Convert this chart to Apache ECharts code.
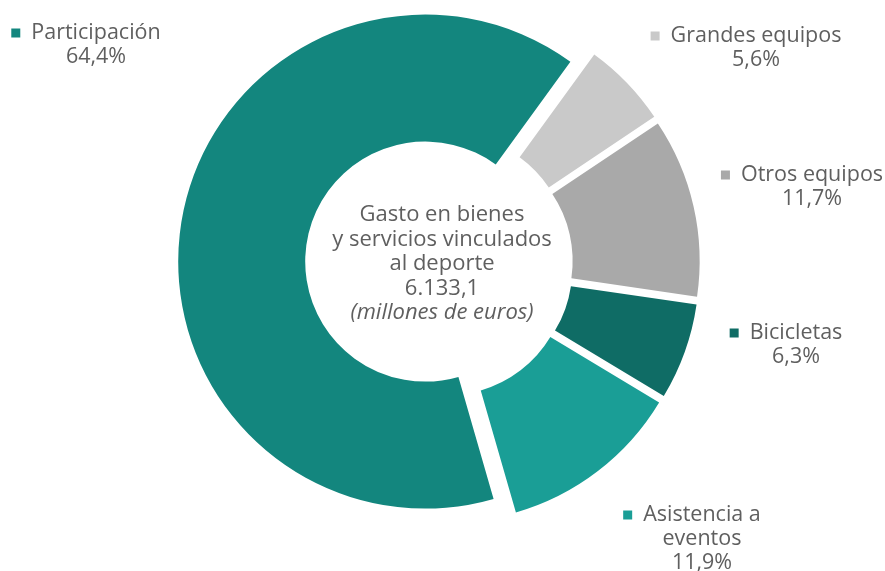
<!DOCTYPE html>
<html>
<head>
<meta charset="utf-8">
<script src="https://cdn.jsdelivr.net/npm/echarts@6/dist/echarts.min.js"></script>
<style>
html, body { margin: 0; padding: 0; background: #fff; }
#chart { width: 885px; height: 571px; }
</style>
</head>
<body>
<div id="chart"></div>
<script>
// datos del gráfico (sentido horario desde arriba)
var categorias = ['Grandes equipos', 'Otros equipos', 'Bicicletas', 'Asistencia a\neventos', 'Participación'];
var porcentajes = [5.6, 11.7, 6.3, 11.9, 64.4];
var colores = ['#c9c9c9', '#a9a9a9', '#0f6c65', '#1a9e96', '#13867e'];
var centroTexto = ['Gasto en bienes', 'y servicios vinculados', 'al deporte', '6.133,1', '(millones de euros)'];

// posición de cada etiqueta (centro del bloque)
var labelPos = [[746, 48], [802, 187], [786, 345], [692, 539], [86, 45]];

var fuente = 'Open Sans';
var gris = '#5f5f5f';

var myChart = echarts.init(document.getElementById('chart'));

function fmt(v) {
	return v.toFixed(1).replace('.', ',') + '%';
}

var datos = [];
for (var i = 0; i < categorias.length; i++) {
	datos.push({
		name: categorias[i],
		value: porcentajes[i],
		selected: true,
		itemStyle: { color: colores[i] }
	});
}

// etiquetas tipo leyenda: cuadrado + nombre, porcentaje debajo
var etiquetas = [];
for (var j = 0; j < categorias.length; j++) {
	var lineas = categorias[j].split('\n');
	var s = '{m| }{n|' + lineas[0] + '}';
	for (var k = 1; k < lineas.length; k++) {
		s += '\n{c|' + lineas[k] + '}';
	}
	s += '\n{c|' + fmt(porcentajes[j]) + '}';
	etiquetas.push({
		type: 'text',
		x: labelPos[j][0],
		y: labelPos[j][1],
		silent: true,
		style: {
			text: s,
			align: 'center',
			verticalAlign: 'middle',
			rich: {
				m: { width: 9, height: 9, backgroundColor: colores[j] },
				n: { fontFamily: fuente, fontSize: 21.5, fill: gris, padding: [0, 0, 0, 11], lineHeight: 24 },
				c: { fontFamily: fuente, fontSize: 21.5, fill: gris, padding: [0, 0, 0, 20], lineHeight: 24 }
			}
		}
	});
}

etiquetas.push({
	type: 'text',
	x: 442,
	y: 264,
	silent: true,
	style: {
		text: '{a|' + centroTexto.slice(0, 4).join('}\n{a|') + '}\n{i|' + centroTexto[4] + '}',
		align: 'center',
		verticalAlign: 'middle',
		rich: {
			a: { fontFamily: fuente, fontSize: 22, fill: gris, lineHeight: 24.5, align: 'center' },
			i: { fontFamily: fuente, fontSize: 22, fontStyle: 'italic', fill: gris, lineHeight: 24.5, align: 'center' }
		}
	}
});

var option = {
	animation: false,
	series: [
		{
			type: 'pie',
			center: [439, 264],
			radius: [120, 247],
			startAngle: 54,
			clockwise: true,
			selectedMode: 'multiple',
			selectedOffset: 14,
			emphasis: { disabled: true },
			label: { show: false },
			labelLine: { show: false },
			data: datos
		}
	],
	graphic: etiquetas
};
myChart.setOption(option);
</script>
</body>
</html>
